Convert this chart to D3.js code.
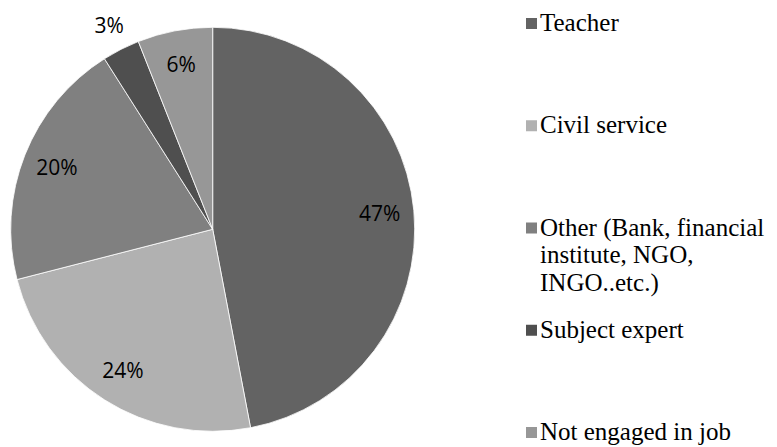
<!DOCTYPE html>
<html>
<head>
<meta charset="utf-8">
<script src="https://cdn.jsdelivr.net/npm/d3@7"></script>
<style>
  body { margin: 0; background: #fff; }
  .legend text { font-family: "Liberation Serif", "DejaVu Serif", serif; font-size: 25px; fill: #000; }
  .pct { font-family: "Open Sans", sans-serif; font-size: 21px; fill: #000; }
</style>
</head>
<body>
<div id="wrapper"></div>
<script>
// data
const categories = ["Teacher", "Civil service", "Other (Bank, financial institute, NGO, INGO..etc.)", "Subject expert", "Not engaged in job"];
const legendLines = [["Teacher"], ["Civil service"], ["Other (Bank, financial", "institute, NGO,", "INGO..etc.)"], ["Subject expert"], ["Not engaged in job"]];
const shares = [47, 24, 20, 3, 6];
const colors = ["#636363", "#b1b1b1", "#808080", "#4f4f4f", "#979797"];

function drawPie() {
  const dimensions = { width: 777, height: 447, cx: 212.7, cy: 229.3, radius: 202 };

  const dataset = categories.map((c, i) => ({ name: c, value: shares[i], color: colors[i], lines: legendLines[i] }));

  const wrapper = d3.select("#wrapper")
    .append("svg")
    .attr("width", dimensions.width)
    .attr("height", dimensions.height);

  const bounds = wrapper.append("g")
    .attr("transform", `translate(${dimensions.cx},${dimensions.cy})`);

  const pie = d3.pie().sort(null).value(d => d.value);
  const arcs = pie(dataset);

  const arc = d3.arc().innerRadius(0).outerRadius(dimensions.radius);
  const labelArc = d3.arc().innerRadius(dimensions.radius * 0.83).outerRadius(dimensions.radius * 0.83);
  const outerLabelArc = d3.arc().innerRadius(dimensions.radius * 1.13).outerRadius(dimensions.radius * 1.13);

  bounds.selectAll("path")
    .data(arcs)
    .enter()
    .append("path")
    .attr("d", arc)
    .attr("fill", d => d.data.color)
    .attr("stroke", "#fff")
    .attr("stroke-width", 0.8);

  // percentage labels (small slices go outside)
  bounds.selectAll("text.pct")
    .data(arcs)
    .enter()
    .append("text")
    .attr("class", "pct")
    .attr("transform", d => {
      const c = d.data.value < 5 ? outerLabelArc.centroid(d) : labelArc.centroid(d);
      return `translate(${c[0]},${c[1]})`;
    })
    .attr("text-anchor", "middle")
    .attr("dy", "0.36em")
    .text(d => d.data.value + "%");

  // legend
  const legendY = d3.scalePoint()
    .domain(categories)
    .range([31, 440]);
  const lineHeight = 27.5;

  const legend = wrapper.append("g").attr("class", "legend");
  const items = legend.selectAll("g")
    .data(dataset)
    .enter()
    .append("g")
    .attr("transform", d => `translate(0,${legendY(d.name)})`);

  items.append("rect")
    .attr("x", 526)
    .attr("y", -13)
    .attr("width", 11)
    .attr("height", 11)
    .attr("fill", d => d.color);

  items.append("text")
    .selectAll("tspan")
    .data(d => d.lines)
    .enter()
    .append("tspan")
    .attr("x", 540)
    .attr("y", (t, i) => i * lineHeight)
    .text(t => t);
}

drawPie();
</script>
</body>
</html>
